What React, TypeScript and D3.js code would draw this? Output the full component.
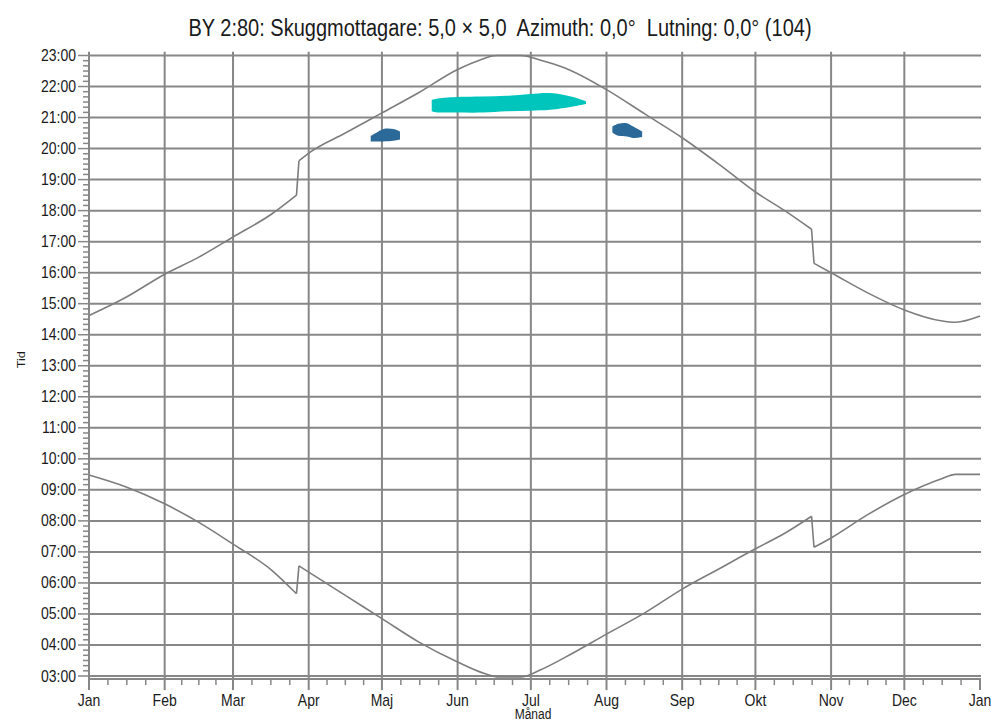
import React from 'react'
import * as d3 from 'd3'

const W = 991
const H = 721

const monthDays = [0, 31, 59, 90, 120, 151, 181, 212, 243, 273, 304, 334, 365]
const monthLabels = ['Jan', 'Feb', 'Mar', 'Apr', 'Maj', 'Jun', 'Jul', 'Aug', 'Sep', 'Okt', 'Nov', 'Dec', 'Jan']
const hourTicks = [3, 4, 5, 6, 7, 8, 9, 10, 11, 12, 13, 14, 15, 16, 17, 18, 19, 20, 21, 22, 23]

// daylight saving switches (day of year), curves jump here
const dstDays = [85, 296]

// [day of year, hour]
const sunsetPts: [number, number][] = [
    [0, 14.62], [15, 15.2], [31, 15.95], [45, 16.5], [59, 17.15], [75, 17.9], [85, 18.5],
    [86, 19.6], [90, 19.85], [105, 20.5], [120, 21.15], [135, 21.8], [151, 22.55], [160, 22.85],
    [167, 23.0], [177, 23.0], [185, 22.85], [195, 22.6], [212, 21.9], [228, 21.1], [243, 20.35], [258, 19.5],
    [273, 18.6], [285, 18.0], [296, 17.4], [297, 16.3], [304, 16.0], [319, 15.35], [334, 14.8], [349, 14.45],
    [355, 14.4], [365, 14.6],
]
const sunrisePts: [number, number][] = [
    [0, 9.48], [15, 9.1], [31, 8.55], [45, 7.95], [59, 7.25], [75, 6.4], [85, 5.65],
    [86, 6.55], [90, 6.35], [105, 5.6], [120, 4.85], [135, 4.1], [151, 3.45], [162, 3.08],
    [168, 2.97], [177, 2.97], [185, 3.2], [195, 3.6], [212, 4.35], [228, 5.05], [243, 5.8], [258, 6.45],
    [273, 7.1], [285, 7.6], [296, 8.15], [297, 7.15], [304, 7.45], [319, 8.2], [334, 8.85], [349, 9.35],
    [355, 9.5], [365, 9.5],
]

// shadow patches: [day, from hour, to hour]
const shadowTeal: [number, number, number][] = [
    [140.4, 21.2, 21.57], [142, 21.17, 21.6], [150.6, 21.16, 21.66], [161.4, 21.16, 21.68],
    [171.1, 21.2, 21.7], [180.6, 21.22, 21.76], [188.9, 21.25, 21.79], [198.3, 21.36, 21.66],
    [203.6, 21.44, 21.52],
]
const shadowBlueMay: [number, number, number][] = [
    [115.4, 20.23, 20.41], [117.9, 20.23, 20.52], [120.6, 20.23, 20.63], [124.7, 20.25, 20.63],
    [127.4, 20.29, 20.55],
]
const shadowBlueAug: [number, number, number][] = [
    [214.4, 20.52, 20.71], [216.8, 20.41, 20.8], [220.3, 20.39, 20.82], [223.0, 20.34, 20.71],
    [226.6, 20.37, 20.55],
]

const gridColor = '#878787'
const textColor = '#1a1a1a'
const font = 'Arial, "Liberation Sans", sans-serif'
const stretch = 1.15 // the labels in the original are slightly tall

function Label({ x, y, size, anchor, children, rotate }: { x: number, y: number, size: number, anchor: string, children: React.ReactNode, rotate?: number }) {
    const tf = `translate(${x},${y})${rotate ? ` rotate(${rotate})` : ''} scale(${rotate ? stretch : 1},${rotate ? 1 : stretch})`
    return (
        <text transform={tf} textAnchor={anchor} fontFamily={font} fontSize={size} fill={textColor} style={{ whiteSpace: 'pre' }}>
            {children}
        </text>
    )
}

// split at the DST jumps so the smoothing doesn't bulge around them
function splitAtJumps(pts: [number, number][]) {
    const segs: [number, number][][] = [[]]
    pts.forEach(p => {
        segs[segs.length - 1].push(p)
        if (dstDays.includes(p[0])) segs.push([p])
    })
    return segs
}

export default function App() {
    const x = d3.scaleLinear().domain([0, 365]).range([89, 980])
    const y = d3.scaleLinear().domain([3, 23]).range([676, 55.5])
    const axisTop = y(23.12)
    const axisBottom = y(2.9)

    const smooth = d3.line<[number, number]>().x(d => x(d[0])).y(d => y(d[1])).curve(d3.curveMonotoneX)
    const straight = d3.line<[number, number]>().x(d => x(d[0])).y(d => y(d[1]))
    const area = d3.area<[number, number, number]>()
        .x(d => x(d[0])).y0(d => y(d[1])).y1(d => y(d[2]))
        .curve(d3.curveCatmullRom)

    const curvePath = (pts: [number, number][]) => {
        const segs = splitAtJumps(pts)
        return segs.map((s, i) => {
            // segment that starts at a jump day: draw the jump itself straight
            if (i > 0) {
                const jump = [s[0], pts[pts.indexOf(s[0]) + 1]] as [number, number][]
                return (straight(jump) || '') + (smooth(s.slice(1)) || '')
            }
            return smooth(s) || ''
        }).join('')
    }

    const minorY: number[] = []
    hourTicks.slice(0, -1).forEach(h => { for (let k = 1; k < 6; k++) minorY.push(h + k / 6) })
    const minorX: number[] = []
    monthDays.slice(0, -1).forEach((d, i) => {
        const len = monthDays[i + 1] - d
        for (let k = 1; k < 4; k++) minorX.push(d + (len * k) / 4)
    })

    return (
        <svg width={W} height={H} style={{ position: 'absolute', left: 0, top: 0, background: '#fff' }}>
            <Label x={500} y={36} size={20} anchor="middle">
                {'BY 2:80: Skuggmottagare: 5,0 × 5,0  Azimuth: 0,0°  Lutning: 0,0° (104)'}
            </Label>

            {/* horizontal grid */}
            {hourTicks.map(h => (
                <line key={'hg' + h} x1={x(0)} x2={x(365) + 1} y1={y(h)} y2={y(h)} stroke={gridColor} strokeWidth={2} />
            ))}
            {/* vertical grid */}
            {monthDays.slice(1, -1).map(d => (
                <line key={'vg' + d} x1={x(d)} x2={x(d)} y1={axisTop} y2={axisBottom} stroke={gridColor} strokeWidth={2} />
            ))}

            {/* shadows */}
            <path d={area(shadowTeal) || ''} fill="#00c5bd" />
            <path d={area(shadowBlueMay) || ''} fill="#2b6a98" />
            <path d={area(shadowBlueAug) || ''} fill="#2b6a98" />

            {/* sun curves */}
            <path d={curvePath(sunsetPts)} fill="none" stroke="#7d7d7d" strokeWidth={1.6} />
            <path d={curvePath(sunrisePts)} fill="none" stroke="#7d7d7d" strokeWidth={1.6} />

            {/* axes */}
            <line x1={x(0)} x2={x(0)} y1={axisTop} y2={axisBottom} stroke={gridColor} strokeWidth={2} />
            <line x1={x(0)} x2={x(365) + 1} y1={axisBottom} y2={axisBottom} stroke={gridColor} strokeWidth={2} />

            {hourTicks.map(h => (
                <g key={'yt' + h}>
                    <line x1={x(0) - 11} x2={x(0)} y1={y(h)} y2={y(h)} stroke={gridColor} strokeWidth={1.5} />
                    <Label x={x(0) - 13} y={y(h) + 5.5} size={14} anchor="end">
                        {d3.format('02d')(h) + ':00'}
                    </Label>
                </g>
            ))}
            {minorY.map((h, i) => (
                <line key={'ym' + i} x1={x(0) - 6} x2={x(0)} y1={y(h)} y2={y(h)} stroke={gridColor} strokeWidth={1.5} />
            ))}

            {monthDays.map((d, i) => (
                <g key={'xt' + i}>
                    <line x1={x(d)} x2={x(d)} y1={axisBottom} y2={axisBottom + 11} stroke={gridColor} strokeWidth={2} />
                    <Label x={x(d)} y={axisBottom + 27} size={14} anchor="middle">
                        {monthLabels[i]}
                    </Label>
                </g>
            ))}
            {minorX.map((d, i) => (
                <line key={'xm' + i} x1={x(d)} x2={x(d)} y1={axisBottom} y2={axisBottom + 6} stroke={gridColor} strokeWidth={1.5} />
            ))}

            <Label x={25} y={y(13) - 6} size={11} anchor="middle" rotate={-90}>
                Tid
            </Label>
            <Label x={533} y={718.5} size={12} anchor="middle">
                Månad
            </Label>
        </svg>
    )
}
